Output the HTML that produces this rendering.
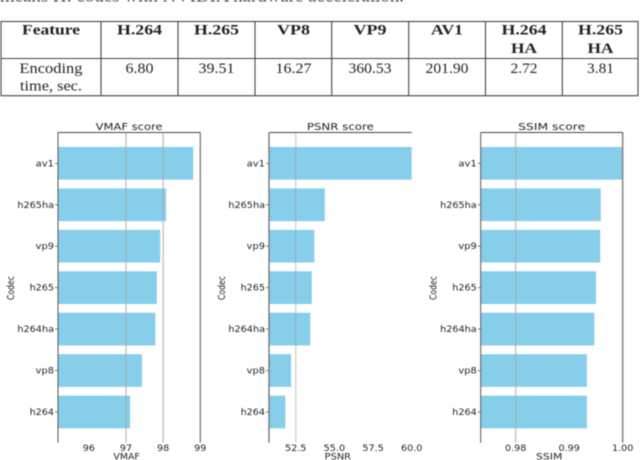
<!DOCTYPE html>
<html lang="en">
<head>
<meta charset="utf-8">
<title>Codec comparison</title>
<style>
html,body{margin:0;padding:0;background:#fff;width:640px;height:460px;overflow:hidden}
svg{display:block;filter:blur(0.4px)}
.tbl{font-family:"Liberation Serif",serif;font-size:14.5px;fill:#222;text-anchor:middle}
.b{font-weight:bold}
.c{font-family:"DejaVu Sans",sans-serif;fill:#222}
</style>
</head>
<body>
<svg id="chart" xmlns="http://www.w3.org/2000/svg" width="640" height="460" viewBox="0 0 640 460">
<text x="0" y="1.5" font-family="Liberation Serif, serif" font-size="14.5" fill="#222" textLength="404" lengthAdjust="spacingAndGlyphs">means H: codes with NVIDIA hardware acceleration.</text>
<g>
<rect x="1" y="21.5" width="637" height="74.2" fill="none" stroke="#444" stroke-width="1.1"/>
<line x1="1" x2="638" y1="58.5" y2="58.5" stroke="#444" stroke-width="1.1"/>
<g stroke="#444" stroke-width="1.1">
<line x1="101" x2="101" y1="21.5" y2="95.7"/>
<line x1="178" x2="178" y1="21.5" y2="95.7"/>
<line x1="255" x2="255" y1="21.5" y2="95.7"/>
<line x1="331.7" x2="331.7" y1="21.5" y2="95.7"/>
<line x1="408.7" x2="408.7" y1="21.5" y2="95.7"/>
<line x1="485.5" x2="485.5" y1="21.5" y2="95.7"/>
<line x1="562.3" x2="562.3" y1="21.5" y2="95.7"/>
</g>
<text class="tbl b" x="51" y="34.5" textLength="58" lengthAdjust="spacingAndGlyphs">Feature</text>
<text class="tbl b" x="139.5" y="34.5" textLength="45" lengthAdjust="spacingAndGlyphs">H.264</text>
<text class="tbl b" x="216.5" y="34.5" textLength="45" lengthAdjust="spacingAndGlyphs">H.265</text>
<text class="tbl b" x="293.5" y="34.5" textLength="33" lengthAdjust="spacingAndGlyphs">VP8</text>
<text class="tbl b" x="370" y="34.5" textLength="33" lengthAdjust="spacingAndGlyphs">VP9</text>
<text class="tbl b" x="447" y="34.5" textLength="32" lengthAdjust="spacingAndGlyphs">AV1</text>
<text class="tbl b" x="524" y="34.5" textLength="45" lengthAdjust="spacingAndGlyphs">H.264</text>
<text class="tbl b" x="524" y="53" textLength="26" lengthAdjust="spacingAndGlyphs">HA</text>
<text class="tbl b" x="600.5" y="34.5" textLength="45" lengthAdjust="spacingAndGlyphs">H.265</text>
<text class="tbl b" x="600.5" y="53" textLength="26" lengthAdjust="spacingAndGlyphs">HA</text>
<text class="tbl" x="51" y="73" textLength="63" lengthAdjust="spacingAndGlyphs">Encoding</text>
<text class="tbl" x="51" y="90.7" textLength="62" lengthAdjust="spacingAndGlyphs">time, sec.</text>
<text class="tbl" x="139.5" y="73" textLength="28" lengthAdjust="spacingAndGlyphs">6.80</text>
<text class="tbl" x="216.5" y="73" textLength="36" lengthAdjust="spacingAndGlyphs">39.51</text>
<text class="tbl" x="293.5" y="73" textLength="36" lengthAdjust="spacingAndGlyphs">16.27</text>
<text class="tbl" x="370" y="73" textLength="43" lengthAdjust="spacingAndGlyphs">360.53</text>
<text class="tbl" x="447" y="73" textLength="43" lengthAdjust="spacingAndGlyphs">201.90</text>
<text class="tbl" x="524" y="73" textLength="27" lengthAdjust="spacingAndGlyphs">2.72</text>
<text class="tbl" x="600.5" y="73" textLength="27" lengthAdjust="spacingAndGlyphs">3.81</text>
</g>
</svg>
<script>
const categories = ['av1', 'h265ha', 'vp9', 'h265', 'h264ha', 'vp8', 'h264'];
const vmafValues = [98.81, 98.08, 97.92, 97.83, 97.79, 97.43, 97.11];
const psnrValues = [60.0, 54.38, 53.7, 53.54, 53.44, 52.2, 51.83];
const ssimValues = [1.0, 0.9959, 0.9958, 0.995, 0.9947, 0.9933, 0.9933];
const vmafTicks = [96, 97, 98, 99];
const vmafTickLabels = ['96', '97', '98', '99'];
const psnrTicks = [52.5, 55, 57.5, 60];
const psnrTickLabels = ['52.5', '55.0', '57.5', '60.0'];
const ssimTicks = [0.98, 0.99, 1.0];
const ssimTickLabels = ['0.98', '0.99', '1.00'];
const vmafDomain = [95.17, 99];
const psnrDomain = [50.77, 60];
const ssimDomain = [0.97346, 1.0];

const svg = document.getElementById('chart');
const NS = 'http://www.w3.org/2000/svg';
const TOP = 132.5, BOTTOM = 442.7, FIRST_CENTER = 163.3, STEP = 41.45, BAR_H = 32.7;

function make(tag, attrs, parent) {
  const el = document.createElementNS(NS, tag);
  for (const k in attrs) el.setAttribute(k, attrs[k]);
  parent.appendChild(el);
  return el;
}
function xScale(domain, left, right) {
  return v => left + (v - domain[0]) / (domain[1] - domain[0]) * (right - left);
}
function yScale(i) {
  return FIRST_CENTER + i * STEP;
}
function label(parent, str, x, y, anchor, size, width) {
  const t = make('text', {class: 'c', x: x, y: y, 'text-anchor': anchor, 'font-size': size, textLength: width, lengthAdjust: 'spacingAndGlyphs'}, parent);
  t.textContent = str;
  return t;
}

function drawPanel(key, title, axisName, values, ticks, tickLabels, domain, left, right, gridOn, codecX) {
  const x = xScale(domain, left, right);
  const g = make('g', {}, svg);
  
  

  values.forEach((v, i) => {
    const bar = make('rect', {x: left, y: yScale(i) - BAR_H / 2, width: Math.max(0, x(v) - left), height: BAR_H, fill: '#87ceeb'}, g);
    
    
    const tick = make('line', {x1: left - 3, x2: left, y1: yScale(i), y2: yScale(i), stroke: '#444', 'stroke-width': 0.7}, g);
    
    
    const yl = label(g, categories[i], left - 4, yScale(i) + 3, 'end', 9, categories[i].length * 6.1);
    
    
  });

  ticks.forEach((t, i) => {
    if (gridOn[i]) {
      const isEdge = Math.abs(x(t) - right) < 1;
      const grid = make('line', {x1: x(t), x2: x(t), y1: TOP, y2: BOTTOM, stroke: isEdge ? (key === 'vmaf' ? '#555' : '#8c8c8c') : (key === 'psnr' ? 'rgba(150,150,150,0.7)' : 'rgba(170,170,170,0.75)'), 'stroke-width': isEdge ? (key === 'ssim' ? 1.6 : 1) : (key === 'psnr' ? 0.8 : 1.3)}, g);
      
      
    }
    const xl = label(g, tickLabels[i], x(t), 451, 'middle', 9, tickLabels[i].length * 5.6 + (tickLabels[i].length > 2 ? -1 : 1));
    
    
  });

  const topSpine = make('line', {x1: left, x2: right, y1: TOP, y2: TOP, stroke: '#444', 'stroke-width': 0.9}, g);
  
  
  const leftSpine = make('line', {x1: left, x2: left, y1: TOP, y2: BOTTOM, stroke: key === 'psnr' ? '#777' : '#555', 'stroke-width': key === 'psnr' ? 1.4 : 1}, g);
  
  

  const tt = label(g, title, (left + right) / 2, 130, 'middle', 10, title.length * 6.7);
  
  
  const xt = label(g, axisName, (left + right) / 2 - 2.5, 459.5, 'middle', 9, axisName.length * 6.6);
  
  
  const yt = make('text', {class: 'c', x: 0, y: 0, 'text-anchor': 'middle', 'font-size': 10, textLength: 24, lengthAdjust: 'spacingAndGlyphs', transform: 'translate(' + codecX + ',288) rotate(-90)'}, g);
  yt.textContent = 'Codec';
  
  
}

drawPanel('vmaf', 'VMAF score', 'VMAF', vmafValues, vmafTicks, vmafTickLabels, vmafDomain, 58, 200.3, [false, true, true, true], 14);
drawPanel('psnr', 'PSNR score', 'PSNR', psnrValues, psnrTicks, psnrTickLabels, psnrDomain, 269, 411.7, [true, false, false, false], 225);
drawPanel('ssim', 'SSIM score', 'SSIM', ssimValues, ssimTicks, ssimTickLabels, ssimDomain, 480.7, 622.7, [true, false, true], 436.5);
</script>
</body>
</html>
